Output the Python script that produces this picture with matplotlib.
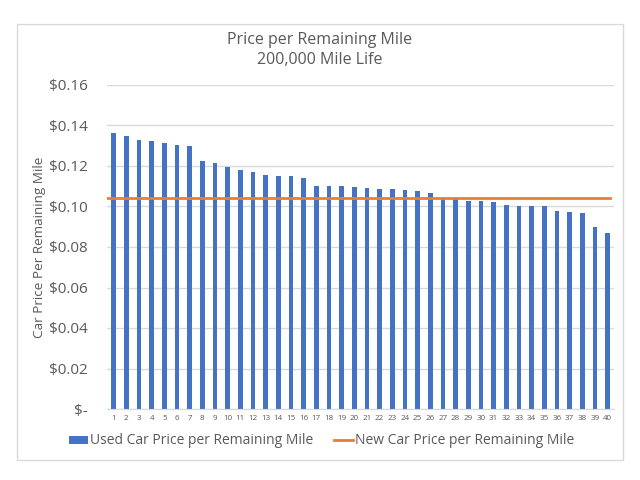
import matplotlib
matplotlib.use("Agg")
import matplotlib.pyplot as plt
from matplotlib.patches import Rectangle
from matplotlib.ticker import FuncFormatter

plt.rcParams['font.family'] = ['Open Sans', 'DejaVu Sans']

cars = list(range(1, 41))
used_price = [0.1363, 0.1349, 0.1329, 0.1321, 0.1316, 0.1304, 0.1299, 0.1226, 0.1213, 0.1193,
              0.1180, 0.1170, 0.1157, 0.1152, 0.1149, 0.1140, 0.1100, 0.1100, 0.1100, 0.1094,
              0.1089, 0.1087, 0.1084, 0.1080, 0.1075, 0.1067, 0.1038, 0.1037, 0.1028, 0.1025,
              0.1022, 0.1006, 0.1003, 0.1000, 0.1000, 0.0979, 0.0971, 0.0967, 0.0898, 0.0871]
new_price = 0.1042
yticks = [0, 0.02, 0.04, 0.06, 0.08, 0.10, 0.12, 0.14, 0.16]

text_col = '#595959'
fig = plt.figure(figsize=(6.4, 4.8), dpi=100)
fig.patches.append(Rectangle((16.7/640, 1-460/480), (623-16.7)/640, (460-24)/480,
                             transform=fig.transFigure, fill=False, edgecolor='#d9d9d9', lw=1))
ax = fig.add_axes([107.3/640, 1-409/480, (614-107.3)/640, (409-85)/480])

bars = ax.bar(cars, used_price, width=0.36, color='#4472C4', label='Used Car Price per Remaining Mile', zorder=2)
line, = ax.plot([0.5, 40.2], [new_price, new_price], color='#ED7D31', lw=2,
                label='New Car Price per Remaining Mile', zorder=3)

ax.set_xlim(0.5, 40.5)
ax.set_ylim(0, 0.16)
ax.set_yticks(yticks)
ax.yaxis.set_major_formatter(FuncFormatter(lambda v, p: '$-' if abs(v) < 1e-9 else f'${v:.2f}'))
ax.set_xticks(cars)
ax.set_xticklabels([str(c) for c in cars])
ax.grid(axis='y', color='#d9d9d9', lw=1, zorder=0)
for s in ['top', 'right', 'left']:
    ax.spines[s].set_visible(False)
ax.spines['bottom'].set_color('#d9d9d9')
ax.tick_params(axis='y', length=0, pad=14, labelsize=11, labelcolor=text_col)
ax.tick_params(axis='x', length=0, pad=4, labelsize=5.8, labelcolor=text_col)
ax.set_ylabel('Car Price Per Remaining Mile', fontsize=9.7, color=text_col)
ax.yaxis.set_label_coords((46-107.3)/506.7, 0.5)

fig.text(0.5, 1-40/480, 'Price per Remaining Mile', ha='center', va='center', fontsize=11.5, color=text_col)
fig.text(0.5, 1-60/480, '200,000 Mile Life', ha='center', va='center', fontsize=11.5, color=text_col)

leg = fig.legend([bars, line], ['Used Car Price per Remaining Mile', 'New Car Price per Remaining Mile'],
                 loc='center', bbox_to_anchor=(321.5/640, 1-441/480), ncol=2, frameon=False,
                 fontsize=10, labelcolor=text_col, handlelength=1.37, handleheight=0.5,
                 handletextpad=0.15, columnspacing=1.5, borderpad=0, borderaxespad=0)
fig.savefig('out.png', dpi=100)
